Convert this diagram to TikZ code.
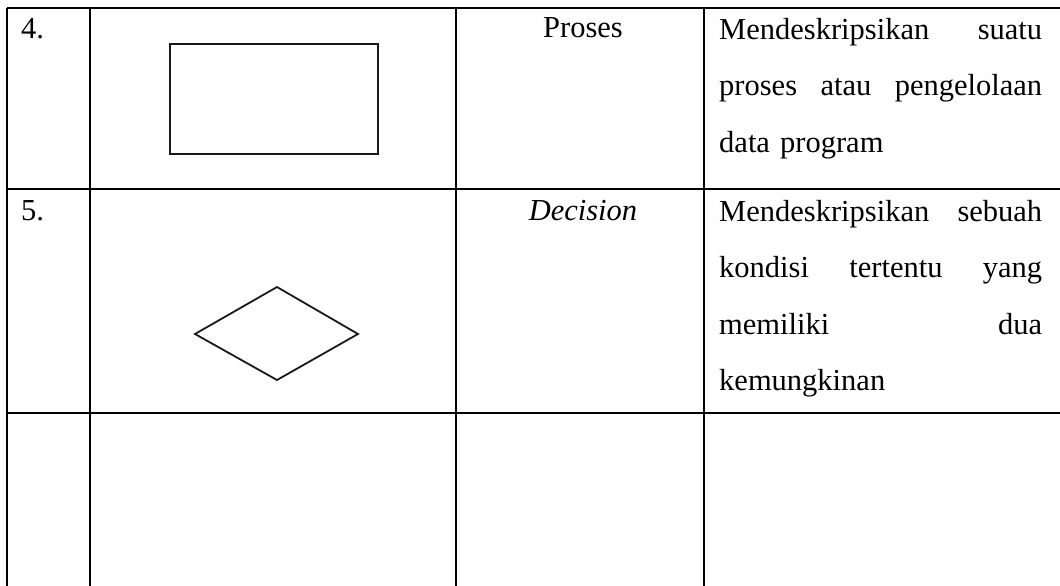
\documentclass[tikz,border=0pt]{standalone}
\usepackage{fontspec}
\setmainfont{Liberation Serif}
\usepackage{tikz}
\tikzset{
	celltext/.style={inner sep=0pt, font=\fontsize{30.5}{56.5}\selectfont},
	desctext/.style={celltext, anchor=north west, text width=323pt, align=left},
	gridline/.style={line width=2.5pt, color=black},
	shapeline/.style={line width=1.8pt, color=black!90, line join=miter}
}

\begin{document}
\begin{tikzpicture}[x=1pt, y=-1pt]
			%%%%% START %%%%%
			\useasboundingbox (0, 0) rectangle (1060, 586);
			
			\draw[gridline] (7, 8) -- (1060, 8);
			\draw[gridline] (7, 189) -- (1060, 189);
			\draw[gridline] (7, 413) -- (1060, 413);
			
			\draw[gridline] (7, 8) -- (7, 586);
			\draw[gridline] (90, 8) -- (90, 586);
			\draw[gridline] (456, 8) -- (456, 586);
			\draw[gridline] (704, 8) -- (704, 586);
			
			\node[celltext, anchor=base west] (noproses) at (21, 39) {4.};
			\draw[shapeline] (170, 44) rectangle (378, 154);
			\node[celltext, anchor=base] (proses) at (583, 38) {Proses};
			\node[desctext] (descproses) at (719, 18) {Mendeskripsikan\hfill suatu\\ proses\hfill atau\hfill pengelolaan\\ data program};
			
			\node[celltext, anchor=base west] (nodecision) at (21, 220) {5.};
			\draw[shapeline] (277, 287) -- (358, 334) -- (277, 380) -- (195, 334) -- cycle;
			\node[celltext, anchor=base, font=\fontsize{30.5}{56.5}\selectfont\itshape] (decision) at (583, 220) {Decision};
			\node[desctext] (descdecision) at (719, 200) {Mendeskripsikan\hfill sebuah\\ kondisi\hfill tertentu\hfill yang\\ memiliki\hfill dua\\ kemungkinan};
			
			%%%%% END %%%%%
		\end{tikzpicture}
\end{document}
